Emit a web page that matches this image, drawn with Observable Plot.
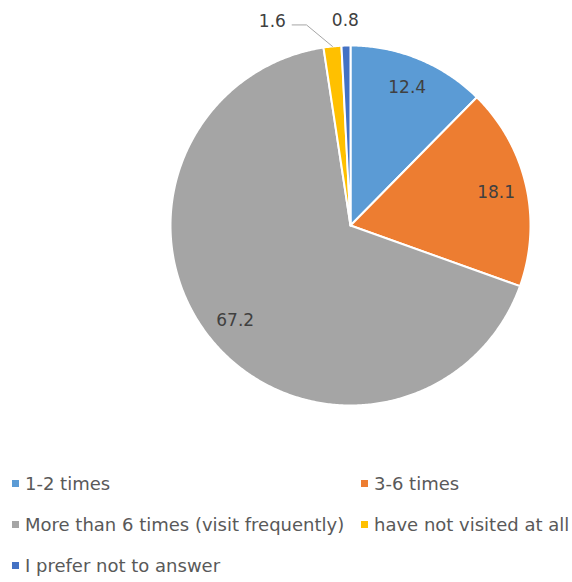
<!DOCTYPE html>
<html>
<head>
<meta charset="utf-8">
<script src="https://cdn.jsdelivr.net/npm/d3@7"></script>
<script src="https://cdn.jsdelivr.net/npm/@observablehq/plot@0.6"></script>
<style>
  html, body { margin: 0; padding: 0; background: #fff; }
  #wrap { position: relative; width: 572px; height: 582px; overflow: hidden; font-family: "DejaVu Sans", sans-serif; }
  #chart { position: absolute; left: 0; top: 0; }
  .leg { position: absolute; display: flex; align-items: center; font-size: 18px; color: #595959; white-space: nowrap; height: 22px; letter-spacing: 0px; }
  .sw { width: 7px; height: 7px; margin-right: 6px; flex: none; }
</style>
</head>
<body>
<div id="wrap"><div id="chart"></div></div>
<script>
const categories = ["1-2 times", "3-6 times", "More than 6 times (visit frequently)", "have not visited at all", "I prefer not to answer"];
const values = [12.4, 18.1, 67.2, 1.6, 0.8];
const colors = ["#5B9BD5", "#ED7D31", "#A5A5A5", "#FFC000", "#4472C4"];

const data = categories.map((c, i) => ({category: c, value: values[i]}));
const arcs = d3.pie().sort(null).value(d => d.value).startAngle(0).endAngle(2 * Math.PI)(data);

// slice outlines (unit circle coordinates, y up)
const pts = [];
arcs.forEach(a => {
  const n = Math.max(2, Math.ceil((a.endAngle - a.startAngle) / (Math.PI / 360)));
  pts.push({category: a.data.category, x: 0, y: 0});
  for (let i = 0; i <= n; i++) {
    const t = a.startAngle + (a.endAngle - a.startAngle) * i / n;
    pts.push({category: a.data.category, x: Math.sin(t), y: Math.cos(t)});
  }
});

// labels
const labels = arcs.map(a => {
  const mid = (a.startAngle + a.endAngle) / 2;
  const outside = a.data.value < 5;
  const r = outside ? 1.14 : 0.83;
  return {category: a.data.category, value: a.data.value, outside, mid, x: r * Math.sin(mid), y: r * Math.cos(mid), a};
});
// resolve collision of the two outside labels: shift the earlier one left with a leader line
const outs = labels.filter(d => d.outside);
const leaders = [];
if (outs.length > 1) {
  const L = outs[0];
  L.x -= 0.32;
  leaders.push({x: L.x + 0.11, y: L.y - 0.02});
  leaders.push({x: L.x + 0.19, y: L.y - 0.02});
  leaders.push({x: 1.0 * Math.sin(L.mid), y: 1.0 * Math.cos(L.mid)});
}

const plot = Plot.plot({
  width: 572,
  height: 440,
  margin: 0,
  x: {domain: [-1, 1], range: [170, 530], axis: null},
  y: {domain: [-1, 1], range: [405, 45], axis: null},
  color: {domain: categories, range: colors},
  style: {fontFamily: "DejaVu Sans, sans-serif", background: "transparent"},
  marks: [
    Plot.line(pts, {x: "x", y: "y", z: "category", fill: "category", stroke: "white", strokeWidth: 2, curve: "linear-closed"}),
    Plot.line(leaders, {x: "x", y: "y", stroke: "#A6A6A6", strokeWidth: 1}),
    Plot.text(labels, {x: "x", y: "y", text: d => d.value.toFixed(1), fill: "#404040", fontSize: 17})
  ]
});
document.getElementById("chart").appendChild(plot);

// legend below the plot
const wrap = document.getElementById("wrap");
const legPos = [[12, 483], [361, 483], [12, 524], [361, 524], [12, 565]];
categories.forEach((c, i) => {
  const el = document.createElement("div");
  el.className = "leg";
  el.style.left = legPos[i][0] + "px";
  el.style.top = (legPos[i][1] - 11) + "px";
  el.innerHTML = `<span class="sw" style="background:${colors[i]}"></span><span>${c}</span>`;
  wrap.appendChild(el);
});
</script>
</body>
</html>
